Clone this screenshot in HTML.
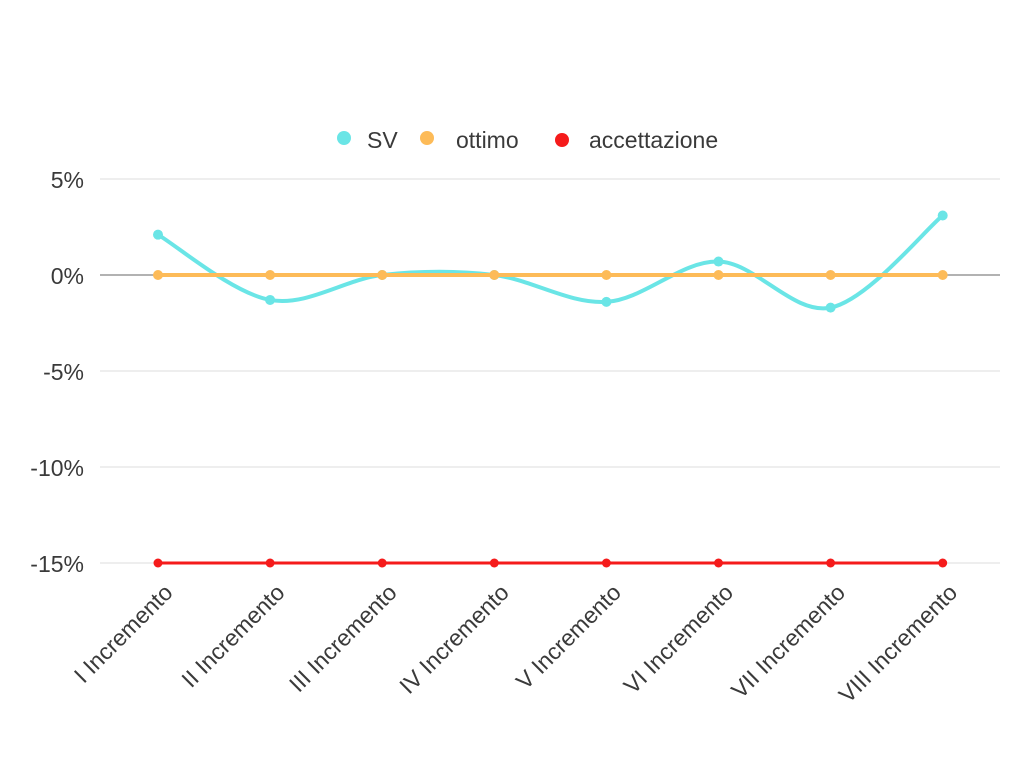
<!DOCTYPE html>
<html><head><meta charset="utf-8"><style>
html,body{margin:0;padding:0;background:#fff;}
svg{display:block;font-family:"Liberation Sans",sans-serif;}
</style></head><body>
<svg id="chart" width="1024" height="768">
<g id="legend">
  <g><circle cx="344" cy="138" r="7" fill="#6ae5e6"/><text x="367" y="148" font-size="23" fill="#3a3a3a">SV</text></g>
  <g><circle cx="427" cy="138" r="7" fill="#fdbb58"/><text x="456" y="148" font-size="23" fill="#3a3a3a">ottimo</text></g>
  <g><circle cx="562" cy="140" r="7" fill="#f51b1b"/><text x="589" y="148" font-size="23" fill="#3a3a3a">accettazione</text></g>
</g>
<g id="grid"></g>
<g id="xlabels"></g>
<g id="series"></g>
</svg>
<script>
const categories=["I Incremento","II Incremento","III Incremento","IV Incremento","V Incremento","VI Incremento","VII Incremento","VIII Incremento"];
const svValues=[2.1,-1.3,0,0,-1.4,0.7,-1.7,3.1];
const ottimoValues=[0,0,0,0,0,0,0,0];
const accettazioneValues=[-15,-15,-15,-15,-15,-15,-15,-15];
const yTicks=[5,0,-5,-10,-15];
const NS="http://www.w3.org/2000/svg";
const x=i=>158+i*112.1;
const y=v=>275-v*19.2;
function mk(t,a,p){const e=document.createElementNS(NS,t);for(const k in a)e.setAttribute(k,a[k]);p.appendChild(e);return e;}
const grid=document.getElementById('grid');
yTicks.forEach(t=>{
  const l=mk('line',{x1:100,x2:1000,y1:y(t),y2:y(t),stroke:t===0?'#999':'#ddd','stroke-width':t===0?1.5:1},grid);
  
  
  const tx=mk('text',{x:84,y:y(t)+9,'text-anchor':'end','font-size':23,fill:'#3a3a3a'},grid);
  tx.textContent=t+'%';
  
  
});
const xl=document.getElementById('xlabels');
categories.forEach((c,i)=>{
  const t=mk('text',{x:x(i)+16,y:594,'text-anchor':'end','font-size':23,fill:'#3a3a3a',transform:`rotate(-45 ${x(i)+16} 594)`},xl);
  t.textContent=c;
  
  
});
const ser=document.getElementById('series');
function smooth(pts){
  let d=`M${pts[0][0]},${pts[0][1]}`;
  for(let i=0;i<pts.length-1;i++){
    const p0=pts[i-1]||pts[i],p1=pts[i],p2=pts[i+1],p3=pts[i+2]||p2;
    const c1=[p1[0]+(p2[0]-p0[0])/6,p1[1]+(p2[1]-p0[1])/6];
    const c2=[p2[0]-(p3[0]-p1[0])/6,p2[1]-(p3[1]-p1[1])/6];
    d+=` C${c1[0]},${c1[1]} ${c2[0]},${c2[1]} ${p2[0]},${p2[1]}`;
  }
  return d;
}
function draw(vals,color,w,r,isSmooth,name){
  const pts=vals.map((v,i)=>[x(i),y(v)]);
  const d=isSmooth?smooth(pts):'M'+pts.map(p=>p.join(',')).join(' L');
  const p=mk('path',{d:d,fill:'none',stroke:color,'stroke-width':w,'stroke-linecap':'round'},ser);
  
  
  pts.forEach(pt=>{
    const c=mk('circle',{cx:pt[0],cy:pt[1],r:r,fill:color},ser);
    
    
  });
}
draw(accettazioneValues,'#f51b1b',3,4.5,false,'accettazione');
draw(svValues,'#6ae5e6',4,5,true,'sv');
draw(ottimoValues,'#fdbb58',4,5,false,'ottimo');
</script>
</body></html>
